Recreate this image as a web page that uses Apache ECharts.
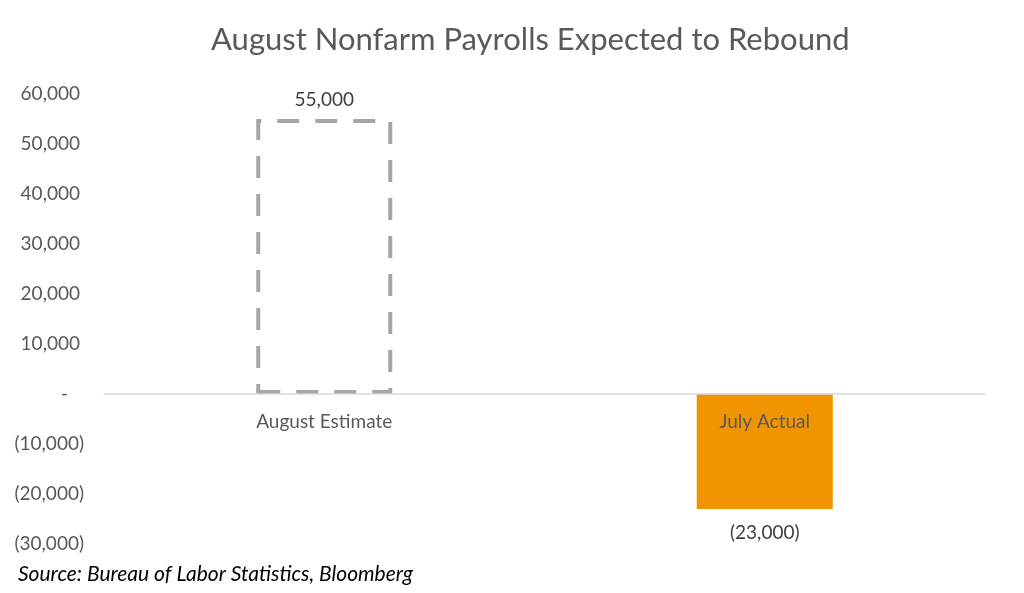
<!DOCTYPE html>
<html>
<head>
<meta charset="utf-8">
<script src="https://cdn.jsdelivr.net/npm/echarts@6/dist/echarts.min.js"></script>
<style>
  html, body { margin: 0; padding: 0; background: #fff; }
  #chart { width: 1024px; height: 593px; }
</style>
</head>
<body>
<div id="chart"></div>
<script>
const categories = ['August Estimate', 'July Actual'];
const payrolls = [55000, -23000];
const yTicks = { min: -30000, max: 60000, interval: 10000 };

const FONT = 'Lato, "Open Sans", sans-serif';
const LABEL_SIZE = 19;

function fmtNum(v) {
  if (v === 0) return '-';
  const s = Math.abs(v).toLocaleString('en-US');
  return v < 0 ? `(${s})` : s;
}

function axisLabel(v) {
  if (v === 0) return '{z|-}';
  return v < 0 ? `{n|${fmtNum(v)}}` : `{p|${fmtNum(v)}}`;
}

const chart = echarts.init(document.getElementById('chart'));

const barData = payrolls.map((v, i) => {
  const estimate = i === 0;
  return {
    value: v,
    itemStyle: estimate
      ? { color: 'rgba(0,0,0,0)', borderColor: '#A5A5A5', borderWidth: 4, borderType: [22, 16] }
      : { color: '#F09500' },
    label: {
      show: true,
      position: v >= 0 ? 'top' : 'bottom',
      distance: v >= 0 ? 10 : 14,
      formatter: () => fmtNum(v),
      color: '#404040',
      fontSize: LABEL_SIZE,
      fontFamily: FONT
    }
  };
});

chart.setOption({
  backgroundColor: '#fff',
  animation: false,
  title: {
    text: 'August Nonfarm Payrolls Expected to Rebound',
    left: 206,
    top: 19,
    textStyle: { color: '#595959', fontSize: 31, fontWeight: 'normal', fontFamily: FONT }
  },
  grid: { left: 104, right: 39, top: 94, bottom: 49 },
  xAxis: {
    type: 'category',
    data: categories,
    // move the axis up onto the zero line (grid bottom is at -30,000)
    offset: -150,
    z: 5,
    axisLine: { onZero: false, lineStyle: { color: '#D9D9D9', width: 1.5 } },
    axisTick: { show: false },
    axisLabel: { color: '#595959', fontSize: LABEL_SIZE, fontFamily: FONT, margin: 18 }
  },
  yAxis: {
    type: 'value',
    min: yTicks.min,
    max: yTicks.max,
    interval: yTicks.interval,
    splitLine: { show: false },
    axisLine: { show: false },
    axisTick: { show: false },
    axisLabel: {
      formatter: axisLabel,
      margin: 20,
      rich: {
        p: { color: '#595959', fontSize: LABEL_SIZE, fontFamily: FONT, padding: [0, 4, 0, 0] },
        n: { color: '#595959', fontSize: LABEL_SIZE, fontFamily: FONT },
        z: { color: '#595959', fontSize: LABEL_SIZE, fontFamily: FONT, padding: [0, 16, 0, 0] }
      }
    }
  },
  series: [{
    type: 'bar',
    barWidth: 136,
    data: barData
  }],
  graphic: [{
    type: 'text',
    left: 18,
    top: 564,
    style: {
      text: 'Source: Bureau of Labor Statistics, Bloomberg',
      fill: '#000',
      fontSize: 21,
      fontStyle: 'italic',
      fontFamily: FONT
    }
  }]
});
</script>
</body>
</html>
